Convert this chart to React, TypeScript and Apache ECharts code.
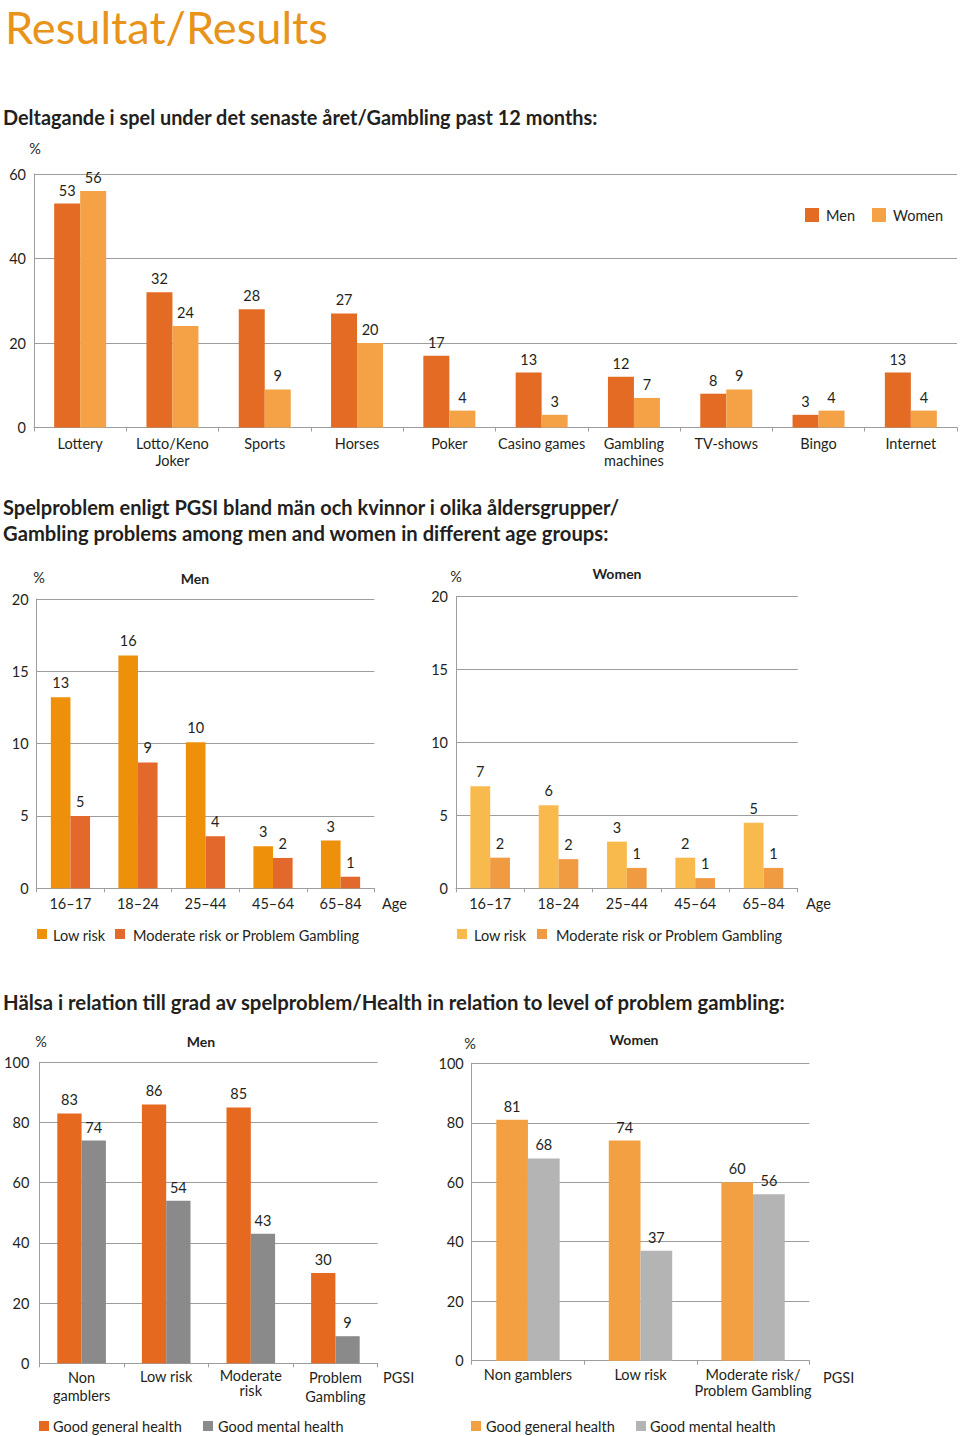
import React, { useEffect, useRef } from "react";
import * as echarts from "echarts";

const FONT = "Lato, 'Open Sans', sans-serif";
const TEXT = "#231f20";
const AXIS = "#9d9d9d";

// ---- Chart 1: participation past 12 months ----
const gameCategories = [
  "Lottery", "Lotto/Keno\nJoker", "Sports", "Horses", "Poker",
  "Casino games", "Gambling\nmachines", "TV-shows", "Bingo", "Internet",
];
const gameMen = [53, 32, 28, 27, 17, 13, 12, 8, 3, 13];
const gameWomen = [56, 24, 9, 20, 4, 3, 7, 9, 4, 4];
const gameAxis = { max: 60, interval: 20 };

// ---- Chart 2: PGSI by age ----
const ageGroups = ["16–17", "18–24", "25–44", "45–64", "65–84"];
const menLowRisk = [13.2, 16.1, 10.1, 2.9, 3.3];
const menLowRiskLabels = [13, 16, 10, 3, 3];
const menModerate = [5.0, 8.7, 3.6, 2.1, 0.8];
const menModerateLabels = [5, 9, 4, 2, 1];
const womenLowRisk = [7.0, 5.7, 3.2, 2.1, 4.5];
const womenLowRiskLabels = [7, 6, 3, 2, 5];
const womenModerate = [2.1, 2.0, 1.4, 0.7, 1.4];
const womenModerateLabels = [2, 2, 1, 1, 1];
const ageAxis = { max: 20, interval: 5 };

// ---- Chart 3: health by PGSI ----
const healthMenCats = ["Non\ngamblers", "Low risk", "Moderate\nrisk", "Problem\nGambling"];
const healthMenLineHeights = [18, 17, 15, 19];
const healthMenGeneral = [83, 86, 85, 30];
const healthMenMental = [74, 54, 43, 9];
const healthWomenCats = ["Non gamblers", "Low risk", "Moderate risk/\nProblem Gambling"];
const healthWomenGeneral = [81, 74, 60];
const healthWomenMental = [68, 37, 56];
const healthAxis = { max: 100, interval: 20 };

const C = {
  men: "#e36b24",
  women: "#f4a245",
  menLow: "#ef900b",
  menMod: "#e2692b",
  womenLow: "#f8ba4c",
  womenMod: "#f09a41",
  menGen: "#e5691f",
  menMental: "#8a8a8a",
  womenGen: "#f3a043",
  womenMental: "#b4b4b4",
  title: "#e8941a",
};

const LABEL_SIZE = 14.5;

const measureCtx = typeof document !== "undefined" ? document.createElement("canvas").getContext("2d") : null;
function fitScale(text: string, size: number, weight: string, width: number) {
  if (!measureCtx) return 1;
  measureCtx.font = `${weight} ${size}px ${FONT}`;
  const w = measureCtx.measureText(text).width;
  return w > 0 ? width / w : 1;
}

function txt(text: string, x: number, y: number, o: any = {}) {
  const size = o.size ?? LABEL_SIZE;
  const weight = o.weight ?? "normal";
  const scaleX = o.width ? fitScale(text, size, weight, o.width) : 1;
  const align = o.align ?? "left";
  return {
    type: "text",
    x,
    y,
    scaleX,
    scaleY: 1,
    silent: true,
    style: {
      text,
      fill: o.fill ?? TEXT,
      fontSize: size,
      fontWeight: weight,
      fontFamily: FONT,
      textAlign: align,
      align,
      textVerticalAlign: "middle",
      verticalAlign: "middle",
    },
  };
}

function square(x: number, y: number, s: number, color: string) {
  return { type: "rect", silent: true, shape: { x, y, width: s, height: s }, style: { fill: color } };
}

function xAxis(grid: number, cats: any[], margin: number, lineHeights?: number[], lh = 17) {
  return {
    type: "category",
    gridIndex: grid,
    data: cats.map((c, i) => ({ value: c, textStyle: { lineHeight: lineHeights ? lineHeights[i] : lh } })),
    axisLine: { show: true, lineStyle: { color: AXIS, width: 1 } },
    axisTick: { show: true, length: 4, lineStyle: { color: AXIS } },
    axisLabel: { color: TEXT, fontSize: LABEL_SIZE, fontFamily: FONT, margin, interval: 0 },
    splitLine: { show: false },
  };
}

function yAxis(grid: number, ax: { max: number; interval: number }, margin = 8) {
  return {
    type: "value",
    gridIndex: grid,
    min: 0,
    max: ax.max,
    interval: ax.interval,
    axisLine: { show: true, lineStyle: { color: AXIS, width: 1 } },
    axisTick: { show: false },
    axisLabel: { color: TEXT, fontSize: LABEL_SIZE, fontFamily: FONT, margin },
    splitLine: { show: true, lineStyle: { color: AXIS, width: 1 } },
  };
}

function bar(name: string, idx: number, data: number[], color: string, width: number, labels?: number[], distance = 6) {
  return {
    type: "bar",
    name,
    xAxisIndex: idx,
    yAxisIndex: idx,
    data,
    barWidth: width,
    barGap: "0%",
    itemStyle: { color },
    label: {
      show: true,
      position: "top",
      distance,
      color: TEXT,
      fontSize: LABEL_SIZE,
      fontFamily: FONT,
      formatter: (p: any) => String(labels ? labels[p.dataIndex] : p.value),
    },
  };
}

export default function App() {
  const ref = useRef<HTMLDivElement>(null);

  useEffect(() => {
    document.body.style.margin = "0";
    if (!ref.current) return;
    const chart = echarts.init(ref.current, null, { renderer: "svg" });

    const option: any = {
      animation: false,
      backgroundColor: "#ffffff",
      textStyle: { fontFamily: FONT },
      grid: [
        { left: 34, top: 174, width: 923, height: 253.5, containLabel: false },
        { left: 36.7, top: 599, width: 337.6, height: 289.3, containLabel: false },
        { left: 456, top: 596.7, width: 341.7, height: 291.6, containLabel: false },
        { left: 39.3, top: 1062.3, width: 338.4, height: 301, containLabel: false },
        { left: 471.7, top: 1063.3, width: 337.6, height: 297.4, containLabel: false },
      ],
      xAxis: [
        xAxis(0, gameCategories, 7, undefined, 17),
        xAxis(1, ageGroups, 7),
        xAxis(2, ageGroups, 7),
        xAxis(3, healthMenCats, 5, healthMenLineHeights),
        xAxis(4, healthWomenCats, 6, undefined, 16),
      ],
      yAxis: [
        yAxis(0, gameAxis, 8),
        yAxis(1, ageAxis, 8),
        yAxis(2, ageAxis, 8),
        yAxis(3, healthAxis, 10),
        yAxis(4, healthAxis, 8),
      ],
      series: [
        bar("Men", 0, gameMen, C.men, 26),
        bar("Women", 0, gameWomen, C.women, 26),
        bar("Men – Low risk", 1, menLowRisk, C.menLow, 19.6, menLowRiskLabels, 7),
        bar("Men – Moderate risk or Problem Gambling", 1, menModerate, C.menMod, 19.6, menModerateLabels, 7),
        bar("Women – Low risk", 2, womenLowRisk, C.womenLow, 19.8, womenLowRiskLabels, 7),
        bar("Women – Moderate risk or Problem Gambling", 2, womenModerate, C.womenMod, 19.8, womenModerateLabels, 7),
        bar("Men – Good general health", 3, healthMenGeneral, C.menGen, 24.3),
        bar("Men – Good mental health", 3, healthMenMental, C.menMental, 24.3),
        bar("Women – Good general health", 4, healthWomenGeneral, C.womenGen, 31.7),
        bar("Women – Good mental health", 4, healthWomenMental, C.womenMental, 31.7),
      ],
      graphic: [
        txt("Resultat/Results", 5, 27, { size: 44, fill: C.title, width: 323 }),
        txt("Deltagande i spel under det senaste året/Gambling past 12 months:", 3, 117, { size: 20.5, weight: "bold", width: 595 }),
        txt("Spelproblem enligt PGSI bland män och kvinnor i olika åldersgrupper/", 3, 507, { size: 20.5, weight: "bold", width: 617 }),
        txt("Gambling problems among men and women in different age groups:", 3, 533, { size: 20.5, weight: "bold", width: 606 }),
        txt("Hälsa i relation till grad av spelproblem/Health in relation to level of problem gambling:", 3, 1002, { size: 20.5, weight: "bold", width: 783 }),

        // chart 1 extras
        txt("%", 35, 148, { align: "center" }),
        square(805, 208, 14, C.men),
        txt("Men", 826, 215.5),
        square(872, 208, 14, C.women),
        txt("Women", 893, 215.5),

        // chart 2 men
        txt("%", 39, 577, { align: "center" }),
        txt("Men", 195, 578, { align: "center", weight: "bold", size: 14 }),
        txt("Age", 382, 903),
        square(37, 929, 10, C.menLow),
        txt("Low risk", 53, 935),
        square(115, 929, 10, C.menMod),
        txt("Moderate risk or Problem Gambling", 133, 935.5),

        // chart 2 women
        txt("%", 456, 576, { align: "center" }),
        txt("Women", 617, 573, { align: "center", weight: "bold", size: 14 }),
        txt("Age", 806, 903),
        square(457, 929, 10, C.womenLow),
        txt("Low risk", 474, 935),
        square(537, 929, 10, C.womenMod),
        txt("Moderate risk or Problem Gambling", 556, 935),

        // chart 3 men
        txt("%", 41, 1041, { align: "center" }),
        txt("Men", 201, 1041.5, { align: "center", weight: "bold", size: 14 }),
        txt("PGSI", 383, 1377),
        square(39, 1421, 10, C.menGen),
        txt("Good general health", 53, 1426.5),
        square(203, 1421, 10, C.menMental),
        txt("Good mental health", 218, 1426.5),

        // chart 3 women
        txt("%", 470, 1043, { align: "center" }),
        txt("Women", 634, 1039, { align: "center", weight: "bold", size: 14 }),
        txt("PGSI", 823, 1377),
        square(471, 1421, 10, C.womenGen),
        txt("Good general health", 486, 1426.5),
        square(636, 1421, 10, C.womenMental),
        txt("Good mental health", 650, 1426.5),
      ],
    };

    chart.setOption(option);
    return () => chart.dispose();
  }, []);

  return <div ref={ref} style={{ width: 960, height: 1436 }} />;
}
